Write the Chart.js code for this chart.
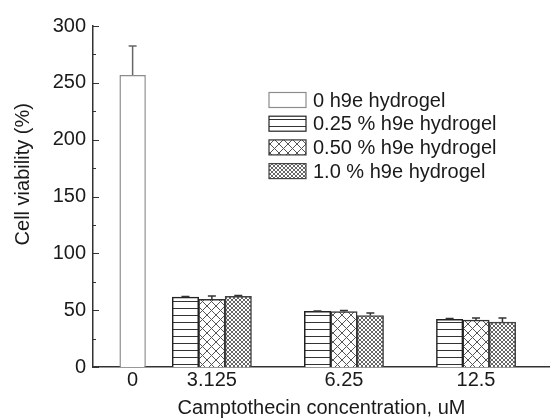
<!DOCTYPE html>
<html lang="en">
<head>
    <meta charset="UTF-8">
    <title>Cell viability vs camptothecin</title>
    <script src="https://cdn.jsdelivr.net/npm/chart.js"></script>
    <style>
        body { margin: 0; background: #fff; }
        #box { width: 550px; height: 418px; }
    </style>
</head>
<body>
    <div id="box"><canvas id="viabilityChart"></canvas></div>

    <script>
        // data
        const groupLabels = ['0', '3.125', '6.25', '12.5'];
        const seriesNames = ['0 h9e hydrogel', '0.25 % h9e hydrogel', '0.50 % h9e hydrogel', '1.0 % h9e hydrogel'];
        const gel0   = [257, null, null, null];
        const gel025 = [null, 61.5, 49.0, 42.0];
        const gel050 = [null, 59.5, 48.8, 41.3];
        const gel10  = [null, 62.2, 45.3, 39.5];
        const err0   = [25.5, null, null, null];
        const err025 = [null, 0.5, 0.3, 0.6];
        const err050 = [null, 3.0, 0.8, 1.8];
        const err10  = [null, 0.6, 2.3, 3.5];
        const yTicks = [0, 50, 100, 150, 200, 250, 300];

        const values = [gel0, gel025, gel050, gel10];
        const errors = [err0, err025, err050, err10];

        // layout: empty bar slots in front of each group, and after the last one
        const gapBefore = [1, 1, 2, 2];
        const gapAfter = 1.3;
        let cursor = 0;
        const groupPos = groupLabels.map((_, i) => {
            const n = values.filter(s => s[i] !== null).length;
            cursor += gapBefore[i];
            const centre = cursor + n / 2;
            cursor += n;
            return centre;
        });
        const xMax = cursor + gapAfter;

        const ctx = document.getElementById('viabilityChart').getContext('2d');

        function makePattern(size, draw) {
            const c = document.createElement('canvas');
            c.width = size;
            c.height = size;
            const g = c.getContext('2d');
            g.fillStyle = '#fff';
            g.fillRect(0, 0, size, size);
            draw(g, size);
            return ctx.createPattern(c, 'repeat');
        }
        const horizLines = makePattern(7, (g, s) => {
            g.strokeStyle = '#333';
            g.lineWidth = 1;
            g.beginPath(); g.moveTo(0, 0.5); g.lineTo(s, 0.5); g.stroke();
        });
        const crossWide = makePattern(9, (g, s) => {
            g.strokeStyle = '#555';
            g.lineWidth = 1;
            g.beginPath();
            g.moveTo(0, 0); g.lineTo(s, s);
            g.moveTo(s, 0); g.lineTo(0, s);
            g.stroke();
        });
        const crossFine = makePattern(4, (g, s) => {
            g.strokeStyle = '#666';
            g.lineWidth = 1;
            g.beginPath();
            g.moveTo(0, 0); g.lineTo(s, s);
            g.moveTo(s, 0); g.lineTo(0, s);
            g.stroke();
        });

        const fills = ['#fff', horizLines, crossWide, crossFine];
        const edges = ['#8c8c8c', '#222', '#333', '#444'];

        const datasets = values.map((vals, d) => ({
            label: seriesNames[d],
            data: vals.map((v, i) => ({ x: groupPos[i], y: v })),
            backgroundColor: fills[d],
            borderColor: edges[d],
            borderWidth: 1.5,
            borderSkipped: 'bottom',
            // the single control bar has a group of its own
            categoryPercentage: d === 0 ? 1 / 3 : 1,
            barPercentage: 1,
            skipNull: true
        }));

        // upper error whiskers
        const errorBars = {
            id: 'errorBars',
            afterDatasetsDraw(chart) {
                const y = chart.scales.y;
                const c = chart.ctx;
                c.save();
                c.lineWidth = 1.5;
                chart.data.datasets.forEach((ds, d) => {
                    chart.getDatasetMeta(d).data.forEach((bar, i) => {
                        const v = values[d][i];
                        const e = errors[d][i];
                        if (v === null || e === null) return;
                        const top = y.getPixelForValue(v + e);
                        c.strokeStyle = d === 0 ? '#666' : '#333';
                        c.beginPath();
                        c.moveTo(bar.x, bar.y);
                        c.lineTo(bar.x, top);
                        c.moveTo(bar.x - 4, top);
                        c.lineTo(bar.x + 4, top);
                        c.stroke();
                    });
                });
                c.restore();
            }
        };

        // inward major/minor ticks on the y axis
        const inwardTicks = {
            id: 'inwardTicks',
            afterDraw(chart) {
                const y = chart.scales.y;
                const x0 = chart.chartArea.left;
                const c = chart.ctx;
                c.save();
                c.strokeStyle = '#333';
                c.lineWidth = 1.2;
                c.beginPath();
                for (let v = yTicks[0]; v <= yTicks[yTicks.length - 1]; v += 25) {
                    const py = Math.round(y.getPixelForValue(v)) + 0.5;
                    const len = v % 50 === 0 ? 6 : 3;
                    c.moveTo(x0, py);
                    c.lineTo(x0 + len, py);
                }
                c.stroke();
                c.restore();
            }
        };

        // legend inside the plot, upper right
        const boxLegend = {
            id: 'boxLegend',
            afterDraw(chart) {
                const c = chart.ctx;
                const left = chart.chartArea.left + 176;
                const top = chart.chartArea.top + 74;
                c.save();
                c.font = '20px "Liberation Sans", Arial, sans-serif';
                c.textBaseline = 'middle';
                chart.data.datasets.forEach((ds, d) => {
                    const cy = top + d * 23.7;
                    c.fillStyle = ds.backgroundColor;
                    c.fillRect(left, cy - 7.5, 37, 15);
                    c.strokeStyle = ds.borderColor;
                    c.lineWidth = 1.2;
                    c.strokeRect(left, cy - 7.5, 37, 15);
                    c.fillStyle = '#1a1a1a';
                    c.fillText(ds.label, left + 44, cy + 1);
                });
                c.restore();
            }
        };

        const viabilityChart = new Chart(ctx, {
            type: 'bar',
            data: { datasets: datasets },
            options: {
                responsive: true,
                maintainAspectRatio: false,
                animation: false,
                layout: { padding: { top: 26, right: 0, left: 0, bottom: 0 } },
                plugins: {
                    legend: { display: false },
                    tooltip: { enabled: false }
                },
                scales: {
                    x: {
                        type: 'linear',
                        offset: false,
                        min: 0,
                        max: xMax,
                        afterBuildTicks: s => { s.ticks = groupPos.map(v => ({ value: v })); },
                        afterFit: s => { s.height = 51; },
                        grid: { display: false, drawTicks: false },
                        border: { color: '#333', width: 1.5 },
                        ticks: {
                            autoSkip: false,
                            maxRotation: 0,
                            padding: 1,
                            color: '#1a1a1a',
                            font: { family: '"Liberation Sans", Arial, sans-serif', size: 20 },
                            callback: v => groupLabels[groupPos.indexOf(v)]
                        },
                        title: {
                            display: true,
                            text: 'Camptothecin concentration, uM',
                            color: '#1a1a1a',
                            padding: 0,
                            font: { family: '"Liberation Sans", Arial, sans-serif', size: 20, lineHeight: 1 }
                        }
                    },
                    y: {
                        min: 0,
                        max: 300,
                        afterBuildTicks: s => { s.ticks = yTicks.map(v => ({ value: v })); },
                        afterFit: s => { s.width = 93; },
                        grid: { display: false, drawTicks: false },
                        border: { color: '#333', width: 1.5 },
                        ticks: {
                            padding: 7,
                            color: '#1a1a1a',
                            font: { family: '"Liberation Sans", Arial, sans-serif', size: 20 }
                        },
                        title: {
                            display: true,
                            text: '        Cell viability (%)',
                            color: '#1a1a1a',
                            padding: { top: 11, bottom: 0 },
                            font: { family: '"Liberation Sans", Arial, sans-serif', size: 20 }
                        }
                    }
                }
            },
            plugins: [errorBars, inwardTicks, boxLegend]
        });
    </script>
</body>
</html>
